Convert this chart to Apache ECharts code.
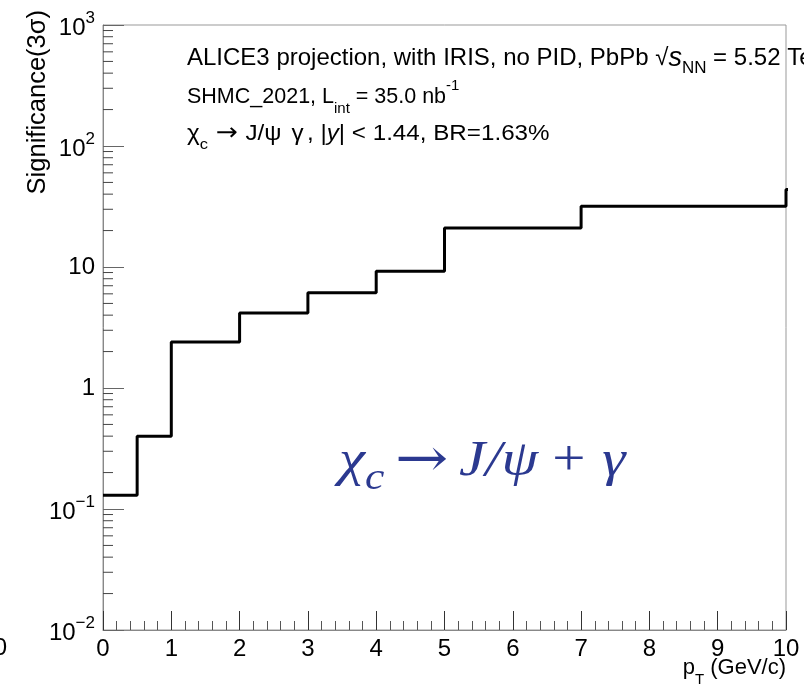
<!DOCTYPE html>
<html>
<head>
<meta charset="utf-8">
<script src="https://cdn.jsdelivr.net/npm/echarts@6/dist/echarts.min.js"></script>
<style>
html,body{margin:0;padding:0;background:#fff;}
#chart{width:804px;height:686px;}
</style>
</head>
<body>
<div id="chart"></div>
<script>
// ---- data ----
var binEdges = [0, 0.5, 1, 2, 3, 4, 5, 7, 10, 12];
var significance = [0.13, 0.40, 2.40, 4.17, 6.14, 9.21, 21.0, 31.7, 43.6];
var xTicks = [0, 1, 2, 3, 4, 5, 6, 7, 8, 9, 10];
var yDecades = [0.01, 0.1, 1, 10, 100, 1000];
var yMinorValues = [];
for (var d = 0; d < yDecades.length - 1; d++) {
  for (var m = 2; m <= 9; m++) yMinorValues.push(+(yDecades[d] * m).toPrecision(3));
}

var FONT = 'Liberation Sans, Arial, Helvetica, sans-serif';
var SERIF = 'Liberation Serif, DejaVu Serif, serif';
var BLUE = '#2b3990';
var histData = [];
for (var i = 0; i < significance.length; i++) histData.push([binEdges[i], significance[i]]);
histData.push([binEdges[binEdges.length - 1], significance[significance.length - 1]]);

function yLabel(v) {
  var e = Math.round(Math.log10(v));
  if (e === 0) return '1';
  if (e === 1) return '10';
  return '{b|10}{sup|' + (e < 0 ? '\u2212' + (-e) : e) + '}';
}

var chart = echarts.init(document.getElementById('chart'), null, {renderer: 'canvas'});
chart.setOption({
  animation: false,
  backgroundColor: '#fff',
  grid: {left: 103, right: 18, top: 25, bottom: 56, show: true, borderColor: '#999', borderWidth: 1, backgroundColor: 'transparent'},
  xAxis: {
    type: 'value', min: xTicks[0], max: xTicks[xTicks.length - 1], interval: 1,
    axisLine: {show: true, lineStyle: {color: '#888', width: 1}},
    axisTick: {show: true, inside: true, length: 19, lineStyle: {color: '#333', width: 1}},
    minorTick: {show: true, splitNumber: 5, length: 9, lineStyle: {color: '#555', width: 1}},
    splitLine: {show: false},
    axisLabel: {fontSize: 24, color: '#000', fontFamily: FONT, margin: 7,
      formatter: function (v) { return String(v); }}
  },
  yAxis: {
    type: 'log', logBase: 10, min: yDecades[0], max: yDecades[yDecades.length - 1],
    axisLine: {show: true, lineStyle: {color: '#888', width: 1}},
    axisTick: {show: true, inside: true, length: 21, lineStyle: {color: '#666', width: 1}},
    splitLine: {show: false},
    axisLabel: {color: '#000', fontFamily: FONT, fontSize: 24, margin: 8,
      formatter: yLabel,
      rich: {
        b: {fontSize: 24, fontFamily: FONT, color: '#000', padding: [6, 0, 0, 0]},
        sup: {fontSize: 17, fontFamily: FONT, color: '#000', verticalAlign: 'top', lineHeight: 30}
      }}
  },
  series: [
    {
      type: 'custom',
      silent: true,
      data: yMinorValues.map(function (v) { return [xTicks[0], v]; }),
      renderItem: function (params, api) {
        var p = api.coord([api.value(0), api.value(1)]);
        return {type: 'line', shape: {x1: p[0], y1: p[1], x2: p[0] + 10, y2: p[1]},
          style: {stroke: '#444', lineWidth: 1}};
      },
      clip: false,
      z: 1
    },
    {
      type: 'line',
      data: histData,
      step: 'end',
      showSymbol: false,
      symbol: 'none',
      clip: true,
      lineStyle: {color: '#000', width: 3},
      z: 3
    }
  ],
  graphic: [
    {type: 'text', x: 38, y: 10, rotation: Math.PI / 2,
      style: {text: 'Significance(3\u03c3)', font: '25.5px ' + FONT, fill: '#000', align: 'right', verticalAlign: 'middle'}},
    {type: 'text', x: 786, y: 668,
      style: {text: 'p{sub|T} (GeV/c)', font: '22px ' + FONT, fill: '#000', align: 'right', verticalAlign: 'middle',
        rich: {sub: {fontSize: 15, fontFamily: FONT, fill: '#000', verticalAlign: 'bottom', lineHeight: 38}}}},
    {type: 'text', x: 7, y: 648,
      style: {text: '0', font: '24px ' + FONT, fill: '#000', align: 'right', verticalAlign: 'middle'}},
    {type: 'text', x: 187, y: 58,
      style: {text: 'ALICE3 projection, with IRIS, no PID, PbPb \u221a{it|s}{sub|NN} = 5.52 TeV', font: '24px ' + FONT, fill: '#000', verticalAlign: 'middle',
        rich: {it: {fontStyle: 'italic', fontSize: 27, fontFamily: FONT, fill: '#000'},
               sub: {fontSize: 17, fontFamily: FONT, fill: '#000', verticalAlign: 'bottom', lineHeight: 38}}}},
    {type: 'text', x: 187, y: 97,
      style: {text: 'SHMC_2021, L{sub|int} = 35.0 nb{sup|-1}', font: '21.5px ' + FONT, fill: '#000', verticalAlign: 'middle',
        rich: {sub: {fontSize: 15, fontFamily: FONT, fill: '#000', verticalAlign: 'bottom', lineHeight: 38},
               sup: {fontSize: 15, fontFamily: FONT, fill: '#000', verticalAlign: 'top', lineHeight: 30}}}},
    {type: 'text', x: 187, y: 134, scaleX: 1.1,
      style: {text: '\u03c7{sub|c}{ar|\u2192}J/\u03c8 {g|\u03b3}, |{it|y}| < 1.44, BR=1.63%', font: '22px ' + FONT, fill: '#000', verticalAlign: 'middle',
        rich: {sub: {fontSize: 15, fontFamily: FONT, fill: '#000', verticalAlign: 'bottom', lineHeight: 36},
               ar: {fontSize: 24, fontFamily: 'DejaVu Sans, sans-serif', fill: '#000', padding: [0, 7, 0, 7]},
               g: {fontSize: 22, fontFamily: FONT, fill: '#000', padding: [0, 3, 0, 3]},
               it: {fontStyle: 'italic', fontSize: 22, fontFamily: FONT, fill: '#000'}}}},
    {type: 'text', x: 339, y: 462, scaleX: 1.18,
      style: {text: '{i|\u03c7}{s|c}{ar|\u2192}{i|J/\u03c8}{op|+}{i|\u03b3}', font: '50px ' + SERIF, fill: BLUE, verticalAlign: 'middle',
        rich: {i: {fontStyle: 'italic', fontSize: 50, fontFamily: SERIF, fill: BLUE},
               s: {fontStyle: 'italic', fontSize: 37, fontFamily: SERIF, fill: BLUE, verticalAlign: 'bottom', lineHeight: 72},
               ar: {fontSize: 54, fontFamily: 'DejaVu Serif, serif', fill: BLUE, padding: [0, 9, 0, 9]},
               op: {fontSize: 50, fontFamily: SERIF, fill: BLUE, padding: [0, 14, 0, 12]}}}}
  ]
});
</script>
</body>
</html>
